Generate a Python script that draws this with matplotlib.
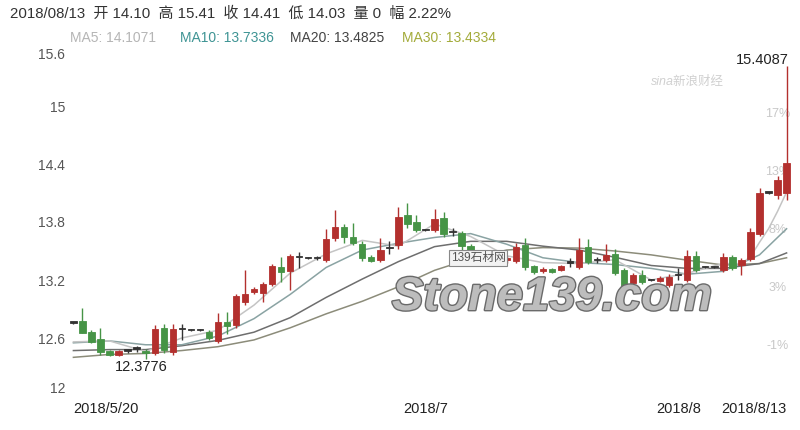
import matplotlib
matplotlib.use('Agg')
import matplotlib.pyplot as plt
import matplotlib.patheffects as pe

plt.rcParams['font.family'] = ['Liberation Sans', 'Noto Sans CJK SC', 'DejaVu Sans']

# daily candles (80 sessions)
opens = [12.76, 12.78, 12.665, 12.59, 12.47, 12.42, 12.47, 12.49, 12.47, 12.44,
         12.70, 12.46, 12.69, 12.68, 12.68, 12.665, 12.57, 12.77, 12.73, 12.975,
         13.08, 13.07, 13.16, 13.33, 13.29, 13.44, 13.43, 13.43, 13.41, 13.63,
         13.75, 13.645, 13.57, 13.44, 13.41, 13.53, 13.56, 13.87, 13.80, 13.72,
         13.72, 13.84, 13.70, 13.69, 13.55, 13.46, 13.48, 13.47, 13.41, 13.40,
         13.56, 13.34, 13.29, 13.31, 13.30, 13.38, 13.33, 13.545, 13.41, 13.41,
         13.47, 13.30, 13.165, 13.25, 13.20, 13.19, 13.15, 13.25, 13.20, 13.45,
         13.33, 13.33, 13.30, 13.44, 13.355, 13.42, 13.68, 14.105, 14.08, 14.10]
highs = [12.77, 12.91, 12.68, 12.70, 12.48, 12.48, 12.49, 12.52, 12.49, 12.73,
         12.74, 12.74, 12.75, 12.69, 12.69, 12.68, 12.86, 12.87, 13.06, 13.30,
         13.13, 13.18, 13.37, 13.44, 13.47, 13.49, 13.44, 13.45, 13.73, 13.92,
         13.78, 13.79, 13.60, 13.46, 13.63, 13.60, 13.96, 14.00, 13.87, 13.73,
         13.93, 13.90, 13.74, 13.71, 13.57, 13.47, 13.49, 13.49, 13.45, 13.58,
         13.63, 13.36, 13.33, 13.32, 13.36, 13.43, 13.63, 13.62, 13.44, 13.57,
         13.52, 13.32, 13.27, 13.30, 13.21, 13.24, 13.26, 13.32, 13.51, 13.50,
         13.34, 13.34, 13.48, 13.46, 13.43, 13.74, 14.15, 14.11, 14.28, 15.41]
lows = [12.75, 12.65, 12.55, 12.42, 12.41, 12.41, 12.45, 12.46, 12.3776, 12.42,
        12.45, 12.42, 12.58, 12.67, 12.67, 12.58, 12.55, 12.64, 12.70, 12.94,
        13.06, 12.97, 13.14, 13.18, 13.10, 13.32, 13.42, 13.41, 13.39, 13.60,
        13.58, 13.56, 13.40, 13.39, 13.39, 13.47, 13.52, 13.74, 13.70, 13.71,
        13.70, 13.64, 13.66, 13.50, 13.45, 13.45, 13.47, 13.40, 13.38, 13.38,
        13.30, 13.26, 13.27, 13.27, 13.29, 13.33, 13.31, 13.37, 13.38, 13.39,
        13.25, 13.10, 13.14, 13.16, 13.19, 13.18, 13.13, 13.20, 13.18, 13.28,
        13.32, 13.32, 13.28, 13.30, 13.25, 13.40, 13.66, 14.09, 14.04, 14.03]
closes = [12.76, 12.655, 12.56, 12.46, 12.42, 12.47, 12.47, 12.49, 12.44, 12.69,
          12.48, 12.69, 12.69, 12.68, 12.68, 12.60, 12.77, 12.72, 13.03, 13.05,
          13.11, 13.16, 13.34, 13.28, 13.45, 13.44, 13.43, 13.43, 13.62, 13.75,
          13.65, 13.58, 13.43, 13.40, 13.51, 13.53, 13.855, 13.78, 13.72, 13.72,
          13.83, 13.68, 13.70, 13.55, 13.47, 13.46, 13.48, 13.41, 13.43, 13.545,
          13.33, 13.28, 13.31, 13.28, 13.35, 13.38, 13.51, 13.39, 13.41, 13.46,
          13.27, 13.12, 13.25, 13.18, 13.20, 13.22, 13.235, 13.25, 13.45, 13.30,
          13.33, 13.33, 13.44, 13.32, 13.41, 13.70, 14.10, 14.105, 14.235, 14.41]

# moving average lines, sampled from the chart
ma5_idx = [0, 4, 8, 12, 16, 20, 24, 28, 32, 36, 40, 44, 48, 52, 56, 60, 64, 68,
           72, 74, 75, 76, 77, 78, 79]
ma5 = [12.56, 12.57, 12.46, 12.60, 12.68, 12.94, 13.27, 13.47, 13.61, 13.55,
       13.78, 13.65, 13.45, 13.38, 13.37, 13.41, 13.20, 13.27, 13.37, 13.37,
       13.44, 13.59, 13.73, 13.91, 14.11]
ma_idx = [0, 4, 8, 12, 16, 20, 24, 28, 32, 36, 40, 44, 48, 52, 56, 60, 64, 68,
          72, 76, 79]
ma10 = [12.55, 12.57, 12.53, 12.53, 12.62, 12.80, 13.05, 13.33, 13.51, 13.58,
        13.64, 13.68, 13.57, 13.43, 13.38, 13.36, 13.32, 13.26, 13.29, 13.46, 13.73]
ma20 = [12.47, 12.48, 12.48, 12.52, 12.575, 12.66, 12.81, 13.02, 13.21, 13.39,
        13.545, 13.60, 13.60, 13.55, 13.51, 13.435, 13.35, 13.32, 13.32, 13.37, 13.48]
ma30 = [12.40, 12.43, 12.44, 12.47, 12.51, 12.58, 12.705, 12.85, 12.98, 13.13,
        13.30, 13.42, 13.51, 13.535, 13.53, 13.50, 13.46, 13.405, 13.355, 13.37, 13.43]

ytick_vals = [12, 12.6, 13.2, 13.8, 14.4, 15, 15.6]
ytick_labels = ['12', '12.6', '13.2', '13.8', '14.4', '15', '15.6']
pct_vals = [12.6, 13.2, 13.8, 14.4, 15.0]
pct_labels = ['-1%', '3%', '8%', '13%', '17%']
xtick_pos = [0, 39, 67, 79]
xtick_labels = ['2018/5/20', '2018/7', '2018/8', '2018/8/13']

fig = plt.figure(figsize=(8, 4.3), dpi=100)
ax = fig.add_axes([68 / 800, 34 / 430, 724 / 800, 348 / 430])

up_col = '#b3302e'
down_col = '#469446'
flat_col = '#333333'

for i in range(len(closes)):
    o, h, l, c = opens[i], highs[i], lows[i], closes[i]
    if abs(c - o) < 0.005:
        col = flat_col
    elif c > o:
        col = up_col
    else:
        col = down_col
    ax.vlines(i, l, h, color=col, lw=1.0, zorder=3)
    ax.bar(i, max(abs(c - o), 0.012), bottom=min(o, c), width=0.7,
           color=col, edgecolor=col, lw=0.6, zorder=4)

ax.plot(ma_idx, ma30, color='#8c8c7a', lw=1.1, zorder=2)
ax.plot(ma_idx, ma20, color='#6e6e6e', lw=1.1, zorder=2)
ax.plot(ma_idx, ma10, color='#8aa3a3', lw=1.1, zorder=2)
ax.plot(ma5_idx, ma5, color='#c4c4c4', lw=1.1, zorder=2)

ax.set_xlim(-0.6, 79.6)
ax.set_ylim(12, 15.6)
for s in ax.spines.values():
    s.set_visible(False)

ax.set_yticks(ytick_vals)
ax.set_yticklabels(ytick_labels, fontsize=10, color='#555555')
ax.tick_params(axis='y', length=0, pad=2)
ylabs = ax.get_yticklabels()
ylabs[0].set_va('bottom')
ylabs[-1].set_va('top')

ax.set_xticks(xtick_pos)
ax.set_xticklabels(xtick_labels, fontsize=10.5, color='#222222')
ax.tick_params(axis='x', length=0, pad=4)
xlabs = ax.get_xticklabels()
xlabs[0].set_ha('left')
xlabs[-1].set_ha('right')

for v, t in zip(pct_vals, pct_labels):
    ax.text(78, v - 0.08, t, fontsize=9, color='#c8c8c8', ha='center', va='center', zorder=1)

# max / min markers
ax.text(79.2, 15.475, '15.4087', fontsize=10.5, color='#222222', ha='right', va='center')
ax.text(7.5, 12.295, '12.3776', fontsize=10.5, color='#222222', ha='center', va='center')

# header
fig.text(10 / 800, 1 - 14 / 430,
         '2018/08/13  开 14.10  高 15.41  收 14.41  低 14.03  量 0  幅 2.22%',
         fontsize=10.8, color='#333333', va='center')
fig.text(70 / 800, 1 - 38 / 430, 'MA5: 14.1071', fontsize=10, color='#b5b5b5', va='center')
fig.text(180 / 800, 1 - 38 / 430, 'MA10: 13.7336', fontsize=10, color='#3f9494', va='center')
fig.text(290 / 800, 1 - 38 / 430, 'MA20: 13.4825', fontsize=10, color='#444444', va='center')
fig.text(402 / 800, 1 - 38 / 430, 'MA30: 13.4334', fontsize=10, color='#a3ab3a', va='center')

# watermarks
fig.text(687 / 800, 1 - 82 / 430, 'sina新浪财经', fontsize=9, color='#d0d0d0',
         style='italic', ha='center', va='center')
fig.text(552 / 800, 1 - 298 / 430, 'Stone139.com', fontsize=34, fontweight='bold',
         style='italic', color='#bdbdbd', ha='center', va='center', zorder=5,
         path_effects=[pe.withStroke(linewidth=2, foreground='#6a6a6a')])
fig.text(478 / 800, 1 - 258 / 430, '139石材网', fontsize=8.5, color='#555555',
         ha='center', va='center', zorder=6,
         bbox=dict(boxstyle='square,pad=0.15', fc='#f2f2f2', ec='#888888', lw=0.8))

fig.savefig('out.png', dpi=100)
